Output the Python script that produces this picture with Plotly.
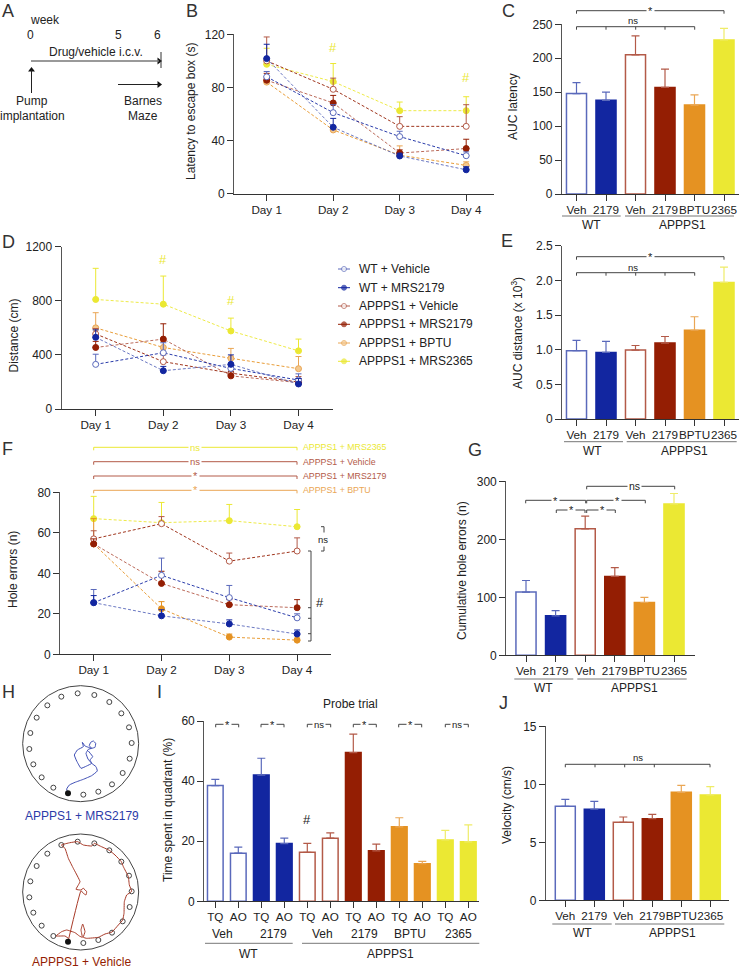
# Barnes maze figure, panels A-J on a fixed pixel canvas
import plotly.graph_objects as go

W, H = 739, 969
FONT = 'Liberation Sans'
TEXT = '#222222'
AXIS = '#555555'
BLUE = '#1226a0'
RED = '#941e03'
ORANGE = '#e59222'
YELLOW = '#ebe833'
BLUE_LINE = '#5a69bb'
RED_LINE = '#b35a48'

# Series names and shared labels
groups = ['WT + Vehicle', 'WT + MRS2179', 'APPPS1 + Vehicle', 'APPPS1 + MRS2179', 'APPPS1 + BPTU', 'APPPS1 + MRS2365']
days = ['Day 1', 'Day 2', 'Day 3', 'Day 4']
bar_labels = ['Veh', '2179', 'Veh', '2179', 'BPTU', '2365']

# B: latency to escape box
b_wt_veh = [88, 61, 43, 28.6]
b_wt_veh_top = [92, 67, 47, 31.5]
b_wt_mrs = [101.7, 50, 28.4, 18]
b_wt_mrs_top = [112.5, 56.7, 30.5, 20.3]
b_app_veh = [100, 78.6, 50.7, 50.7]
b_app_veh_top = [118, 87, 58, 67]
b_app_mrs = [85.4, 68.3, 30.6, 34]
b_app_mrs_top = [90.6, 74, 33, 41]
b_app_bptu = [84, 48, 29, 21.3]
b_app_bptu_top = [88, 50.5, 36, 24]
b_app_2365 = [97.4, 84.4, 62.5, 62.5]
b_app_2365_top = [109.5, 98, 69, 73]

# C: AUC latency
c_means = [148, 138, 205, 157, 131, 227]
c_tops = [164, 150, 233, 184, 146, 244]

# D: distance
d_wt_veh = [330, 416, 300, 214]
d_wt_veh_top = [405, 490, 330, 260]
d_wt_mrs = [530, 283, 330, 185]
d_wt_mrs_top = [585, 315, 400, 225]
d_app_veh = [555, 350, 265, 200]
d_app_veh_top = [595, 400, 310, 240]
d_app_mrs = [455, 517, 245, 195]
d_app_mrs_top = [500, 630, 275, 225]
d_app_bptu = [600, 455, 375, 298]
d_app_bptu_top = [712, 500, 448, 388]
d_app_2365 = [810, 775, 577, 430]
d_app_2365_top = [1040, 983, 672, 517]

# E: AUC distance
e_means = [0.985, 0.96, 0.995, 1.095, 1.28, 1.97]
e_tops = [1.135, 1.12, 1.06, 1.19, 1.475, 2.19]

# F: hole errors
f_wt_veh = [25.5, 39, 28, 18]
f_wt_veh_top = [32, 47.5, 34, 20]
f_wt_mrs = [25.5, 19, 15, 10]
f_wt_mrs_top = [29, 22, 17, 12]
f_app_veh = [57, 64.5, 46, 51]
f_app_veh_top = [61, 68, 50, 57.5]
f_app_mrs = [54.5, 35, 24.5, 23]
f_app_mrs_top = [57, 41, 27, 27]
f_app_bptu = [54.5, 22.5, 8.5, 7]
f_app_bptu_top = [67, 26, 10, 8]
f_app_2365 = [67, 65, 66, 63]
f_app_2365_top = [78, 75, 74, 71.5]

# G: cumulative hole errors
g_means = [109, 68, 218, 136, 91, 261]
g_tops = [129, 77, 240, 151, 100, 279]

# I: probe trial
i_labels = ['TQ', 'AO'] * 6
i_means = [38.5, 16, 42, 19.2, 16.3, 21, 49.5, 16.8, 24.8, 12.5, 20.4, 19.8]
i_tops = [40.6, 18, 47.6, 21, 19.3, 22.8, 55.6, 19, 27.8, 13.3, 23.6, 25.4]

# J: velocity
j_means = [8.1, 7.85, 6.72, 7.04, 9.31, 9.08]
j_tops = [8.7, 8.53, 7.18, 7.41, 9.91, 9.8]

# H: maze holes and the two tracks, in maze units
hole_x = [190, 235, 276, 308, 329, 335, 327, 304, 268, 223, 173, 124, 82, 50, 31, 28, 40, 65, 100]
hole_y = [329, 320, 298, 264, 221, 174, 127, 85, 51, 30, 25, 35, 61, 98, 144, 192, 238, 277, 308]
start_x = [144]
start_y = [325]
blue_x = [144, 140, 148, 165, 190, 215, 232, 228, 215, 204, 198, 205, 215, 225, 227, 220, 212, 208, 215, 195, 187, 190, 172, 163, 170, 183, 200, 215, 210, 218, 205]
blue_y = [325, 312, 300, 292, 283, 272, 258, 245, 235, 222, 205, 193, 190, 187, 175, 168, 172, 182, 190, 183, 172, 185, 195, 210, 228, 250, 243, 235, 225, 215, 198]
red_x = [145, 135, 108, 125, 140, 165, 178, 187, 183, 188, 195, 190, 200, 235, 255, 276, 295, 308, 312, 313, 320, 335, 328, 325, 310, 304, 285, 268, 240, 223, 215, 190, 173, 150, 124, 135, 145, 160, 180, 168, 182, 190, 200, 198, 190, 183]
red_y = [315, 308, 308, 295, 290, 298, 308, 312, 290, 272, 295, 312, 315, 312, 302, 296, 275, 260, 240, 205, 185, 174, 155, 130, 100, 85, 65, 51, 38, 30, 38, 35, 25, 28, 35, 45, 75, 105, 145, 168, 170, 165, 175, 185, 180, 172]

fig = go.Figure()
axes = {}
shapes = []
notes = []


def px_x(x):
    return x / W


def px_y(y):
    return 1 - y / H


def panel(n, left, right, top, bottom, first, step, ymax, yticks, yticktext, xticks, xticktext):
    # category index 0 falls on pixel `first`, categories are `step` pixels apart
    axes[f'xaxis{n}'] = dict(
        domain=[px_x(left), px_x(right)], range=[(left - first) / step, (right - first) / step], automargin=False,
        anchor=f'y{n}', showgrid=False, zeroline=False, showline=True, linecolor='#333333', linewidth=1,
        ticks='outside', ticklen=6, tickcolor='#333333', tickvals=xticks, ticktext=xticktext, tickangle=0,
        ticklabelstandoff=-1, tickfont=dict(family=FONT, size=11.7, color=TEXT))
    axes[f'yaxis{n}'] = dict(
        domain=[px_y(bottom), px_y(top)], range=[0, ymax], automargin=False,
        anchor=f'x{n}', showgrid=False, zeroline=False, showline=True, linecolor=AXIS, linewidth=1.2,
        ticks='outside', ticklen=6, tickcolor='#333333', tickvals=yticks, ticktext=yticktext,
        tickfont=dict(family=FONT, size=12, color=TEXT))


def note(text, x, y, size=12, color=TEXT, angle=0, bg=None, anchor='center'):
    notes.append(dict(text=text, x=px_x(x), y=px_y(y), xref='paper', yref='paper', showarrow=False,
                      xanchor=anchor, yanchor='middle', textangle=angle, bgcolor=bg, borderpad=1,
                      font=dict(family=FONT, size=size, color=color)))


def line(x0, y0, x1, y1, color='#444444', width=1):
    shapes.append(dict(type='line', xref='paper', yref='paper', x0=px_x(x0), y0=px_y(y0), x1=px_x(x1), y1=px_y(y1),
                       line=dict(color=color, width=width)))


def bracket(x0, x1, y, extra=(), color='#444444', drop=3):
    line(x0, y, x1, y, color)
    for x in (x0, x1) + tuple(extra):
        line(x, y, x, y + drop, color)


def arrow(x0, y0, x1, y1, symbol, color='#222222', width=1):
    line(x0, y0, x1, y1, color, width)
    fig.add_trace(go.Scatter(x=[x1], y=[y1], xaxis='x11', yaxis='y11', mode='markers',
                             marker=dict(symbol=symbol, size=6, color='#111111')))


bar_styles = [
    ('white', BLUE_LINE, BLUE_LINE),
    (BLUE, BLUE, BLUE_LINE),
    ('white', RED_LINE, RED_LINE),
    (RED, RED, RED_LINE),
    (ORANGE, ORANGE, '#eaa654'),
    (YELLOW, YELLOW, '#efec68'),
]

line_styles = [
    ('white', BLUE_LINE, BLUE),
    (BLUE, BLUE, BLUE_LINE),
    ('white', RED_LINE, RED),
    (RED, RED, RED_LINE),
    ('#f3c88f', '#eaa654', ORANGE),
    (YELLOW, YELLOW, YELLOW),
]


def add_bars(n, means, tops, styles, width):
    for i, (mean, top, style) in enumerate(zip(means, tops, styles)):
        fill, edge, whisker = style
        fig.add_trace(go.Bar(
            x=[i], y=[mean], width=width, xaxis=f'x{n}', yaxis=f'y{n}', marker=dict(color=fill, line=dict(color=edge, width=1.5)),
            error_y=dict(type='data', symmetric=False, array=[top - mean], arrayminus=[0], color=whisker, thickness=1.2, width=4)))


def add_lines(n, series, order, styles=line_styles):
    for i in order:
        means, tops = series[i]
        fill, edge, dash = styles[i]
        fig.add_trace(go.Scatter(
            x=list(range(len(means))), y=means, xaxis=f'x{n}', yaxis=f'y{n}', mode='lines+markers', name=groups[i],
            line=dict(color=dash, width=0.9, dash='3px,2px'), marker=dict(size=6, color=fill, line=dict(color=edge, width=1)),
            error_y=dict(type='data', symmetric=False, array=[t - m for t, m in zip(tops, means)],
                         arrayminus=[0] * len(means), color=edge, thickness=1, width=3)))


day_ticks = list(range(len(days)))
bar_ticks = list(range(len(bar_labels)))
draw_order = [5, 4, 2, 3, 0, 1]

# B
panel(1, 234.3, 494.3, 34.3, 193.7, 266.7, 66.5, 120, [0, 40, 80, 120], ['0', '40', '80', '120'], day_ticks, days)
add_lines(1, [(b_wt_veh, b_wt_veh_top), (b_wt_mrs, b_wt_mrs_top), (b_app_veh, b_app_veh_top),
              (b_app_mrs, b_app_mrs_top), (b_app_bptu, b_app_bptu_top), (b_app_2365, b_app_2365_top)], draw_order)
# C
panel(2, 562, 739, 24.3, 194, 576.5, 29.5, 250, [0, 50, 100, 150, 200, 250], ['0', '50', '100', '150', '200', '250'], bar_ticks, bar_labels)
add_bars(2, c_means, c_tops, bar_styles, 0.68)
# D
panel(3, 61.7, 332.7, 246.7, 409, 95.7, 67.6, 1200, [0, 400, 800, 1200], ['0', '400', '800', '1200'], day_ticks, days)
add_lines(3, [(d_wt_veh, d_wt_veh_top), (d_wt_mrs, d_wt_mrs_top), (d_app_veh, d_app_veh_top),
              (d_app_mrs, d_app_mrs_top), (d_app_bptu, d_app_bptu_top), (d_app_2365, d_app_2365_top)], draw_order)
# E
panel(4, 562.3, 739, 245.7, 419, 576.5, 29.5, 2.5, [0, 0.5, 1, 1.5, 2, 2.5], ['0', '0.5', '1.0', '1.5', '2.0', '2.5'], bar_ticks, bar_labels)
add_bars(4, e_means, e_tops, bar_styles, 0.68)
# F, BPTU markers are filled here
f_styles = list(line_styles)
f_styles[4] = (ORANGE, ORANGE, ORANGE)
panel(5, 60.3, 330.7, 492.3, 654.3, 93.7, 67.8, 80, [0, 20, 40, 60, 80], ['0', '20', '40', '60', '80'], day_ticks, days)
add_lines(5, [(f_wt_veh, f_wt_veh_top), (f_wt_mrs, f_wt_mrs_top), (f_app_veh, f_app_veh_top),
              (f_app_mrs, f_app_mrs_top), (f_app_bptu, f_app_bptu_top), (f_app_2365, f_app_2365_top)], draw_order, f_styles)
# G
panel(6, 506.3, 694.7, 481.3, 655.3, 526, 29.6, 300, [0, 100, 200, 300], ['0', '100', '200', '300'], bar_ticks, bar_labels)
add_bars(6, g_means, g_tops, bar_styles, 0.68)
# I
i_styles = [s for s in bar_styles for _ in range(2)]
panel(7, 204.3, 479.3, 721, 901.3, 215.3, 23, 60, [0, 20, 40, 60], ['0', '20', '40', '60'], list(range(len(i_labels))), i_labels)
add_bars(7, i_means, i_tops, i_styles, 0.68)
# J
panel(8, 546, 729.3, 726.3, 900.3, 565.3, 29, 15, [0, 5, 10, 15], ['0', '5', '10', '15'], bar_ticks, bar_labels)
add_bars(8, j_means, j_tops, bar_styles, 0.69)


def maze(n, top, y_shift, track_x, track_y, color):
    # 3 maze units per pixel; y_shift moves the drawing down inside the frame
    axes[f'xaxis{n}'] = dict(domain=[px_x(20), px_x(145)], range=[0, 375], visible=False, anchor=f'y{n}', automargin=False)
    axes[f'yaxis{n}'] = dict(domain=[px_y(top + 125), px_y(top)], range=[375 - y_shift, -y_shift], visible=False, anchor=f'x{n}', automargin=False)
    shapes.append(dict(type='circle', xref=f'x{n}', yref=f'y{n}', x0=8, x1=356, y0=2, y1=350,
                       line=dict(color='#444444', width=1)))
    fig.add_trace(go.Scatter(x=hole_x, y=hole_y, xaxis=f'x{n}', yaxis=f'y{n}', mode='markers',
                             marker=dict(size=5, color='white', line=dict(color='#444444', width=1))))
    fig.add_trace(go.Scatter(x=track_x, y=track_y, xaxis=f'x{n}', yaxis=f'y{n}', mode='lines',
                             line=dict(color=color, width=1, shape='spline', smoothing=0.3)))
    fig.add_trace(go.Scatter(x=start_x, y=start_y, xaxis=f'x{n}', yaxis=f'y{n}', mode='markers',
                             marker=dict(size=6, color='#111111')))


maze(9, 685, 0, blue_x, blue_y, '#3d4db5')
maze(10, 830, 10, red_x + start_x, red_y + start_y, '#a83a28')

# Hidden full-canvas axes for the legend glyphs in D and the arrow heads in A
axes['xaxis11'] = dict(domain=[0, 1], range=[0, W], visible=False, anchor='y11', automargin=False)
axes['yaxis11'] = dict(domain=[0, 1], range=[H, 0], visible=False, anchor='x11', automargin=False)
legend_rows = [269, 287.7, 306, 324.3, 343, 361.3]
for name, row, style in zip(groups, legend_rows, line_styles):
    fill, edge, dash = style
    fig.add_trace(go.Scatter(x=[338, 344, 350], y=[row, row, row], xaxis='x11', yaxis='y11', mode='lines+markers',
                             line=dict(color=edge, width=1), marker=dict(size=[0, 5, 0], color=fill, line=dict(color=edge, width=1))))
    note(name, 357, row, anchor='left')

# Panel letters
for letter, x, y in [('A', 0, 11), ('B', 184, 11), ('C', 500, 11), ('D', 0, 242), ('E', 499, 241), ('F', 0, 449),
                     ('G', 466, 450), ('H', 0, 692), ('I', 155, 692), ('J', 497, 703)]:
    note(letter, x, y, size=18, color='#333333', anchor='left')

# Axis titles
note('Latency to escape box (s)', 191, 112, angle=-90)
note('AUC latency', 513, 107, angle=-90)
note('Distance (cm)', 13.5, 336, angle=-90)
note('AUC distance (x 10<sup>3</sup>)', 517, 333, angle=-90)
note('Hole errors (n)', 13, 570, angle=-90)
note('Cumulative hole errors (n)', 462, 570, angle=-90)
note('Time spent in quadrant (%)', 168, 810, angle=-90)
note('Velocity (cm/s)', 507, 805, angle=-90)

# A: timeline
note('week', 45, 20)
note('0', 30.5, 35)
note('5', 118, 35)
note('6', 157, 35)
note('Drug/vehicle i.c.v.', 96, 52)
arrow(31, 61, 159, 61, 'triangle-right', '#777777', 1.6)
line(161, 52, 161, 68, '#333333')
arrow(31.5, 93, 31.5, 70, 'triangle-up')
arrow(118, 84.5, 159, 84.5, 'triangle-right')
note('Pump', 32, 101)
note('implantation', 32, 116)
note('Barnes', 143, 101)
note('Maze', 143, 116)

# B, D significance marks
note('#', 333.3, 47.3, size=13, color=YELLOW)
note('#', 466.3, 77.3, size=13, color=YELLOW)
note('#', 163, 259.3, size=13, color=YELLOW)
note('#', 230.7, 300.7, size=13, color=YELLOW)

# C brackets
bracket(576.5, 724, 10.7)
note('*', 650, 11, size=11, bg='white')
bracket(576.5, 694.7, 26.7, (606, 635.7, 665))
note('ns', 632.7, 20.7, size=9.5)
# E brackets
bracket(576.5, 724, 256.7)
note('*', 650, 257, size=11, bg='white')
bracket(576.5, 694.7, 272.7, (606, 635.7, 665))
note('ns', 632.7, 267, size=9.5)
# G brackets
bracket(525.7, 585.7, 500.3)
note('*', 555, 500.5, size=11, bg='white')
bracket(586.7, 645.3, 500.3)
note('*', 617, 500.5, size=11, bg='white')
bracket(556.3, 585, 510)
note('*', 571, 510, size=11, bg='white')
bracket(586.7, 615.3, 510)
note('*', 602, 510, size=11, bg='white')
bracket(586.7, 674.7, 486.3)
note('ns', 634, 486, size=10.5, bg='white')
# I brackets
for (x0, x1), mark in zip([(215.7, 238.7), (261, 284), (307.3, 330.7), (353.3, 376.3), (398.7, 421.7), (445.3, 468.3)],
                          ['*', '*', 'ns', '*', '*', 'ns']):
    bracket(x0, x1, 724.3)
    note(mark, (x0 + x1) / 2, 724.5, size=11 if mark == '*' else 9.5, bg='white')
note('Probe trial', 350, 704)
note('#', 307, 819, size=13)
# J bracket
bracket(565.3, 710, 764.3, (595, 624.7, 654.3))
note('ns', 637.7, 757.7, size=9.5)

# F comparisons
for y, mark, name, color in [(447.3, 'ns', 'APPPS1 + MRS2365', YELLOW), (461.7, 'ns', 'APPPS1 + Vehicle', RED_LINE),
                             (476, '*', 'APPPS1 + MRS2179', RED_LINE), (490.3, '*', 'APPPS1 + BPTU', '#eaa654')]:
    bracket(93.7, 297, y, color=color)
    note(mark, 195, y, size=9.5 if mark == 'ns' else 11, color=color, bg='white')
    note(name, 301, y, size=8.8, color=color, anchor='left')
line(311, 551, 311, 641)
for y in [551, 607.7, 618.3, 633.7, 641]:
    line(308, y, 311, y)
note('#', 320, 602.7, size=13)
line(324, 526.7, 324, 551)
line(321, 526.7, 324, 526.7)
line(321, 551, 324, 551)
note('ns', 323.3, 539, size=9.5, bg='white')

# Group labels under the bar panels
GROUP_LINE = '#777777'
for x0, x1, x2, x3, y_line, x_wt, x_app, y_text in [
        (562, 620.7, 625, 734, 216, 591, 682, 225),
        (564, 623, 626.7, 736.7, 441.7, 592.7, 684, 451),
        (514.3, 573.3, 577.3, 686.7, 679, 543, 634.7, 688),
        (552.3, 611.7, 615, 724.3, 924, 582.3, 672.7, 932.7),
        (205, 292.7, 302, 479.3, 943.3, 248, 390, 954)]:
    line(x0, y_line, x1, y_line, GROUP_LINE)
    line(x2, y_line, x3, y_line, GROUP_LINE)
    note('WT', x_wt, y_text)
    note('APPPS1', x_app, y_text)
for text, x in zip(bar_labels, [223, 273, 322, 364.3, 410, 458]):
    note(text, x, 934)

# H captions
note('APPPS1 + MRS2179', 81.5, 816, color='#2b3ba8')
note('APPPS1 + Vehicle', 81.5, 962, color=RED)

fig.update_layout(
    width=W, height=H, autosize=False, margin=dict(l=0, r=0, t=0, b=0), showlegend=False, barmode='overlay',
    paper_bgcolor='white', plot_bgcolor='rgba(0,0,0,0)', font=dict(family=FONT, size=12, color=TEXT),
    shapes=shapes, annotations=notes, **axes)

fig.write_html('out.html', config=dict(displayModeBar=False), post_script="document.body.style.margin='0';")
